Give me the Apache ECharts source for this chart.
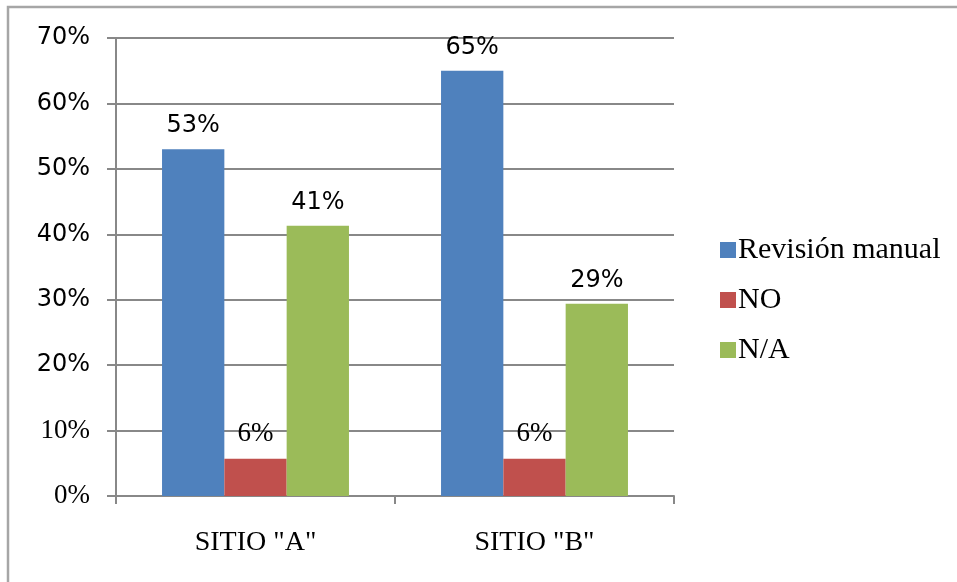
<!DOCTYPE html>
<html>
<head>
<meta charset="utf-8">
<script src="https://cdn.jsdelivr.net/npm/echarts@6/dist/echarts.min.js"></script>
<style>html,body{margin:0;padding:0;background:#fff}#c{width:957px;height:582px}</style>
</head>
<body>
<div id="c"></div>
<script>
var categories = ['SITIO "A"', 'SITIO "B"'];
var seriesNames = ['Revisión manual', 'NO', 'N/A'];
var revisionManual = [0.53, 0.65];
var noValues = [0.057, 0.057];
var naValues = [0.413, 0.294];
var yTicks = [0, 0.1, 0.2, 0.3, 0.4, 0.5, 0.6, 0.7];

var SANS = '"DejaVu Sans", Verdana, sans-serif';
var SERIF = '"Liberation Serif", "Times New Roman", serif';
var pct = function (v) { return Math.round(v * 100) + '%'; };

var chart = echarts.init(document.getElementById('c'));
function barSeries(name, data, color, font, size) {
  return {
    name: name, type: 'bar', data: data, barGap: '0%', barCategoryGap: '33%',
    itemStyle: { color: color },
    label: { show: true, position: 'top', distance: 11, formatter: function (p) { return pct(p.value); },
      fontFamily: font, fontSize: size, color: '#000' }
  };
}
chart.setOption({
  animation: false,
  graphic: [{ type: 'rect', shape: { x: 8, y: 7, width: 1200, height: 1200 },
    style: { fill: 'none', stroke: '#a6a6a6', lineWidth: 2.5 }, silent: true }],
  grid: { left: 116, right: 283, top: 38, bottom: 86 },
  legend: {
    orient: 'vertical', left: 715, top: 230, icon: 'rect', itemWidth: 16, itemHeight: 16, itemGap: 20,
    data: seriesNames,
    textStyle: { fontFamily: SERIF, fontSize: 30, color: '#000', lineHeight: 30, padding: [0, 0, 0, -3] }
  },
  xAxis: {
    type: 'category', data: categories,
    axisLine: { lineStyle: { color: '#888', width: 2 } },
    axisTick: { show: true, length: 8, lineStyle: { color: '#888', width: 2 } },
    axisLabel: { fontFamily: SERIF, fontSize: 28, color: '#000', margin: 33 }
  },
  yAxis: {
    type: 'value', min: 0, max: 0.7, interval: 0.1,
    axisLine: { show: true, lineStyle: { color: '#888', width: 2 } },
    axisTick: { show: true, length: 9, lineStyle: { color: '#888', width: 2 } },
    splitLine: { lineStyle: { color: '#888', width: 2 } },
    axisLabel: {
      margin: 26,
      formatter: function (v) {
        var t = pct(v);
        return Math.round(v * 100) >= 20 ? '{s|' + t + '}' : '{r|' + t + '}';
      },
      rich: {
        s: { fontFamily: SANS, fontSize: 24, color: '#000' },
        r: { fontFamily: SERIF, fontSize: 27, color: '#000' }
      }
    }
  },
  series: [
    barSeries(seriesNames[0], revisionManual, '#4F81BD', SANS, 24),
    barSeries(seriesNames[1], noValues, '#C0504D', SERIF, 27),
    barSeries(seriesNames[2], naValues, '#9BBB59', SANS, 24)
  ]
});
</script>
</body>
</html>
